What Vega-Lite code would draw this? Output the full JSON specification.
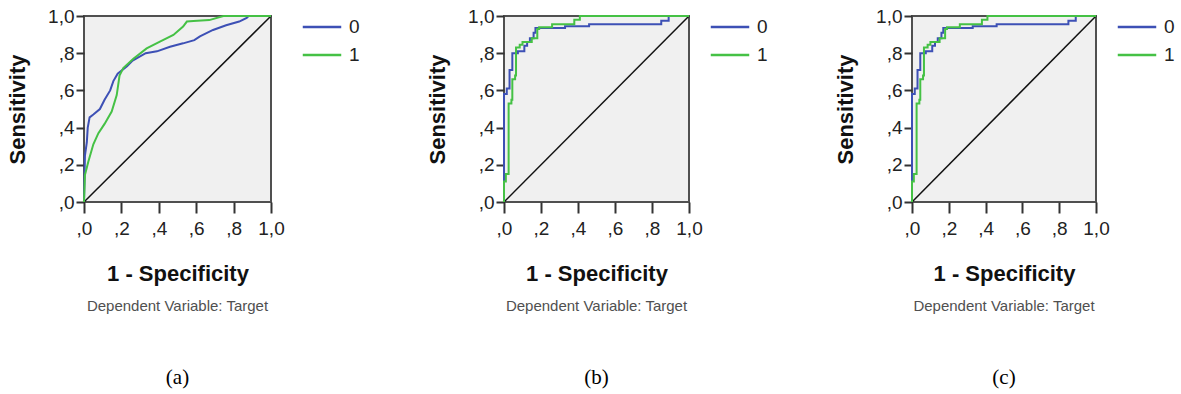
{
  "$schema": "https://vega.github.io/schema/vega-lite/v6.json",
  "background": "white",
  "padding": {"left": 5, "top": 6, "right": 0, "bottom": 0},
  "datasets": {
    "diag": [{"fpr": 0, "sens": 0}, {"fpr": 1, "sens": 1}],
    "rocA": [
      {"i": 0, "grp": "0", "fpr": 0, "sens": 0},
      {"i": 1, "grp": "0", "fpr": 0.005, "sens": 0.25},
      {"i": 2, "grp": "0", "fpr": 0.015, "sens": 0.32},
      {"i": 3, "grp": "0", "fpr": 0.02, "sens": 0.4},
      {"i": 4, "grp": "0", "fpr": 0.03, "sens": 0.455},
      {"i": 5, "grp": "0", "fpr": 0.05, "sens": 0.47},
      {"i": 6, "grp": "0", "fpr": 0.085, "sens": 0.5},
      {"i": 7, "grp": "0", "fpr": 0.11, "sens": 0.55},
      {"i": 8, "grp": "0", "fpr": 0.14, "sens": 0.6},
      {"i": 9, "grp": "0", "fpr": 0.157, "sens": 0.65},
      {"i": 10, "grp": "0", "fpr": 0.18, "sens": 0.69},
      {"i": 11, "grp": "0", "fpr": 0.23, "sens": 0.73},
      {"i": 12, "grp": "0", "fpr": 0.26, "sens": 0.76},
      {"i": 13, "grp": "0", "fpr": 0.33, "sens": 0.8},
      {"i": 14, "grp": "0", "fpr": 0.39, "sens": 0.81},
      {"i": 15, "grp": "0", "fpr": 0.46, "sens": 0.835},
      {"i": 16, "grp": "0", "fpr": 0.53, "sens": 0.853},
      {"i": 17, "grp": "0", "fpr": 0.59, "sens": 0.87},
      {"i": 18, "grp": "0", "fpr": 0.62, "sens": 0.89},
      {"i": 19, "grp": "0", "fpr": 0.69, "sens": 0.925},
      {"i": 20, "grp": "0", "fpr": 0.76, "sens": 0.95},
      {"i": 21, "grp": "0", "fpr": 0.83, "sens": 0.97},
      {"i": 22, "grp": "0", "fpr": 0.87, "sens": 0.99},
      {"i": 23, "grp": "0", "fpr": 0.88, "sens": 1},
      {"i": 24, "grp": "0", "fpr": 1, "sens": 1},
      {"i": 0, "grp": "1", "fpr": 0, "sens": 0},
      {"i": 1, "grp": "1", "fpr": 0.005, "sens": 0.145},
      {"i": 2, "grp": "1", "fpr": 0.023, "sens": 0.217},
      {"i": 3, "grp": "1", "fpr": 0.05, "sens": 0.31},
      {"i": 4, "grp": "1", "fpr": 0.077, "sens": 0.37},
      {"i": 5, "grp": "1", "fpr": 0.11, "sens": 0.42},
      {"i": 6, "grp": "1", "fpr": 0.148, "sens": 0.486},
      {"i": 7, "grp": "1", "fpr": 0.175, "sens": 0.575},
      {"i": 8, "grp": "1", "fpr": 0.19, "sens": 0.68},
      {"i": 9, "grp": "1", "fpr": 0.21, "sens": 0.72},
      {"i": 10, "grp": "1", "fpr": 0.264, "sens": 0.77},
      {"i": 11, "grp": "1", "fpr": 0.335, "sens": 0.826},
      {"i": 12, "grp": "1", "fpr": 0.406, "sens": 0.862},
      {"i": 13, "grp": "1", "fpr": 0.478, "sens": 0.898},
      {"i": 14, "grp": "1", "fpr": 0.53, "sens": 0.943},
      {"i": 15, "grp": "1", "fpr": 0.55, "sens": 0.97},
      {"i": 16, "grp": "1", "fpr": 0.585, "sens": 0.973},
      {"i": 17, "grp": "1", "fpr": 0.67, "sens": 0.978},
      {"i": 18, "grp": "1", "fpr": 0.745, "sens": 1},
      {"i": 19, "grp": "1", "fpr": 1, "sens": 1}
    ],
    "rocB": [
      {"i": 0, "grp": "0", "fpr": 0, "sens": 0},
      {"i": 1, "grp": "0", "fpr": 0, "sens": 0.58},
      {"i": 2, "grp": "0", "fpr": 0.015, "sens": 0.58},
      {"i": 3, "grp": "0", "fpr": 0.015, "sens": 0.61},
      {"i": 4, "grp": "0", "fpr": 0.03, "sens": 0.61},
      {"i": 5, "grp": "0", "fpr": 0.03, "sens": 0.71},
      {"i": 6, "grp": "0", "fpr": 0.045, "sens": 0.71},
      {"i": 7, "grp": "0", "fpr": 0.045, "sens": 0.8},
      {"i": 8, "grp": "0", "fpr": 0.075, "sens": 0.8},
      {"i": 9, "grp": "0", "fpr": 0.075, "sens": 0.81},
      {"i": 10, "grp": "0", "fpr": 0.11, "sens": 0.81},
      {"i": 11, "grp": "0", "fpr": 0.11, "sens": 0.84},
      {"i": 12, "grp": "0", "fpr": 0.125, "sens": 0.84},
      {"i": 13, "grp": "0", "fpr": 0.125, "sens": 0.86},
      {"i": 14, "grp": "0", "fpr": 0.14, "sens": 0.86},
      {"i": 15, "grp": "0", "fpr": 0.14, "sens": 0.88},
      {"i": 16, "grp": "0", "fpr": 0.16, "sens": 0.88},
      {"i": 17, "grp": "0", "fpr": 0.16, "sens": 0.91},
      {"i": 18, "grp": "0", "fpr": 0.17, "sens": 0.91},
      {"i": 19, "grp": "0", "fpr": 0.17, "sens": 0.935},
      {"i": 20, "grp": "0", "fpr": 0.33, "sens": 0.935},
      {"i": 21, "grp": "0", "fpr": 0.33, "sens": 0.945},
      {"i": 22, "grp": "0", "fpr": 0.46, "sens": 0.945},
      {"i": 23, "grp": "0", "fpr": 0.46, "sens": 0.955},
      {"i": 24, "grp": "0", "fpr": 0.85, "sens": 0.955},
      {"i": 25, "grp": "0", "fpr": 0.85, "sens": 0.975},
      {"i": 26, "grp": "0", "fpr": 0.89, "sens": 0.975},
      {"i": 27, "grp": "0", "fpr": 0.89, "sens": 1},
      {"i": 28, "grp": "0", "fpr": 1, "sens": 1},
      {"i": 0, "grp": "1", "fpr": 0, "sens": 0},
      {"i": 1, "grp": "1", "fpr": 0, "sens": 0.11},
      {"i": 2, "grp": "1", "fpr": 0.01, "sens": 0.11},
      {"i": 3, "grp": "1", "fpr": 0.01, "sens": 0.15},
      {"i": 4, "grp": "1", "fpr": 0.025, "sens": 0.15},
      {"i": 5, "grp": "1", "fpr": 0.025, "sens": 0.53},
      {"i": 6, "grp": "1", "fpr": 0.04, "sens": 0.53},
      {"i": 7, "grp": "1", "fpr": 0.04, "sens": 0.55},
      {"i": 8, "grp": "1", "fpr": 0.045, "sens": 0.55},
      {"i": 9, "grp": "1", "fpr": 0.045, "sens": 0.66},
      {"i": 10, "grp": "1", "fpr": 0.06, "sens": 0.66},
      {"i": 11, "grp": "1", "fpr": 0.06, "sens": 0.68},
      {"i": 12, "grp": "1", "fpr": 0.065, "sens": 0.68},
      {"i": 13, "grp": "1", "fpr": 0.065, "sens": 0.83},
      {"i": 14, "grp": "1", "fpr": 0.085, "sens": 0.83},
      {"i": 15, "grp": "1", "fpr": 0.085, "sens": 0.845},
      {"i": 16, "grp": "1", "fpr": 0.1, "sens": 0.845},
      {"i": 17, "grp": "1", "fpr": 0.1, "sens": 0.86},
      {"i": 18, "grp": "1", "fpr": 0.15, "sens": 0.86},
      {"i": 19, "grp": "1", "fpr": 0.15, "sens": 0.88},
      {"i": 20, "grp": "1", "fpr": 0.18, "sens": 0.88},
      {"i": 21, "grp": "1", "fpr": 0.18, "sens": 0.93},
      {"i": 22, "grp": "1", "fpr": 0.19, "sens": 0.93},
      {"i": 23, "grp": "1", "fpr": 0.19, "sens": 0.94},
      {"i": 24, "grp": "1", "fpr": 0.26, "sens": 0.94},
      {"i": 25, "grp": "1", "fpr": 0.26, "sens": 0.955},
      {"i": 26, "grp": "1", "fpr": 0.38, "sens": 0.955},
      {"i": 27, "grp": "1", "fpr": 0.38, "sens": 0.98},
      {"i": 28, "grp": "1", "fpr": 0.41, "sens": 0.98},
      {"i": 29, "grp": "1", "fpr": 0.41, "sens": 1},
      {"i": 30, "grp": "1", "fpr": 1, "sens": 1}
    ]
  },
  "config": {
    "view": {"fill": "#f0f0f0", "stroke": "#505050", "strokeWidth": 2},
    "axis": {
      "grid": false, "domain": false, "tickColor": "#333333", "tickWidth": 2,
      "labelFont": "Liberation Sans", "labelFontSize": 19, "labelColor": "#222222", "labelFlush": false,
      "titleFont": "Liberation Sans", "titleFontSize": 22, "titleFontWeight": "bold", "titleColor": "#111111",
      "values": [0, 0.2, 0.4, 0.6, 0.8, 1],
      "labelExpr": "datum.value >= 1 ? '1,0' : ',' + format(datum.value * 10, '.0f')"
    },
    "axisX": {"tickSize": 11, "labelPadding": 6, "titlePadding": 25},
    "axisY": {"tickSize": 8, "labelPadding": 2, "titlePadding": 18},
    "legend": {
      "title": null, "orient": "right", "symbolType": "M-2,0H2", "symbolSize": 370,
      "symbolStrokeWidth": 2.5, "symbolFillColor": "transparent", "labelFont": "Liberation Sans", "labelFontSize": 19,
      "labelColor": "#222222", "rowPadding": 7, "padding": 0, "labelOffset": 16
    },
    "title": {
      "orient": "bottom", "anchor": "middle", "font": "Liberation Sans", "fontSize": 15,
      "fontWeight": "normal", "color": "#505050", "offset": 15,
      "subtitleFont": "Liberation Serif", "subtitleFontSize": 21, "subtitleColor": "#000000",
      "subtitlePadding": 53
    },
    "concat": {"spacing": 64}
  },
  "resolve": {"scale": {"color": "independent"}, "legend": {"color": "independent"}},
  "hconcat": [
    {
      "width": 187, "height": 186,
      "title": {"text": "Dependent Variable: Target", "subtitle": "(a)"},
      "layer": [
        {
          "data": {"name": "diag"},
          "mark": {"type": "line", "color": "#111111", "strokeWidth": 1.5},
          "encoding": {
            "x": {"field": "fpr", "type": "quantitative", "scale": {"domain": [0, 1]}, "title": "1 - Specificity"},
            "y": {"field": "sens", "type": "quantitative", "scale": {"domain": [0, 1]}, "title": "Sensitivity"}
          }
        },
        {
          "data": {"name": "rocA"},
          "mark": {"type": "line", "strokeWidth": 2},
          "encoding": {
            "x": {"field": "fpr", "type": "quantitative"},
            "y": {"field": "sens", "type": "quantitative"},
            "order": {"field": "i", "type": "quantitative"},
            "color": {"field": "grp", "type": "nominal", "scale": {"domain": ["0", "1"], "range": ["#3d50b5", "#45c145"]}, "legend": {"offset": 36}}
          }
        }
      ]
    },
    {
      "width": 185, "height": 186,
      "title": {"text": "Dependent Variable: Target", "subtitle": "(b)"},
      "layer": [
        {
          "data": {"name": "diag"},
          "mark": {"type": "line", "color": "#111111", "strokeWidth": 1.5},
          "encoding": {
            "x": {"field": "fpr", "type": "quantitative", "scale": {"domain": [0, 1]}, "title": "1 - Specificity"},
            "y": {"field": "sens", "type": "quantitative", "scale": {"domain": [0, 1]}, "title": "Sensitivity"}
          }
        },
        {
          "data": {"name": "rocB"},
          "mark": {"type": "line", "strokeWidth": 2},
          "encoding": {
            "x": {"field": "fpr", "type": "quantitative"},
            "y": {"field": "sens", "type": "quantitative"},
            "order": {"field": "i", "type": "quantitative"},
            "color": {"field": "grp", "type": "nominal", "scale": {"domain": ["0", "1"], "range": ["#3d50b5", "#45c145"]}, "legend": {"offset": 26}}
          }
        }
      ]
    },
    {
      "width": 184, "height": 186,
      "title": {"text": "Dependent Variable: Target", "subtitle": "(c)"},
      "layer": [
        {
          "data": {"name": "diag"},
          "mark": {"type": "line", "color": "#111111", "strokeWidth": 1.5},
          "encoding": {
            "x": {"field": "fpr", "type": "quantitative", "scale": {"domain": [0, 1]}, "title": "1 - Specificity"},
            "y": {"field": "sens", "type": "quantitative", "scale": {"domain": [0, 1]}, "title": "Sensitivity"}
          }
        },
        {
          "data": {"name": "rocB"},
          "mark": {"type": "line", "strokeWidth": 2},
          "encoding": {
            "x": {"field": "fpr", "type": "quantitative"},
            "y": {"field": "sens", "type": "quantitative"},
            "order": {"field": "i", "type": "quantitative"},
            "color": {"field": "grp", "type": "nominal", "scale": {"domain": ["0", "1"], "range": ["#3d50b5", "#45c145"]}, "legend": {"offset": 26}}
          }
        }
      ]
    }
  ]
}
